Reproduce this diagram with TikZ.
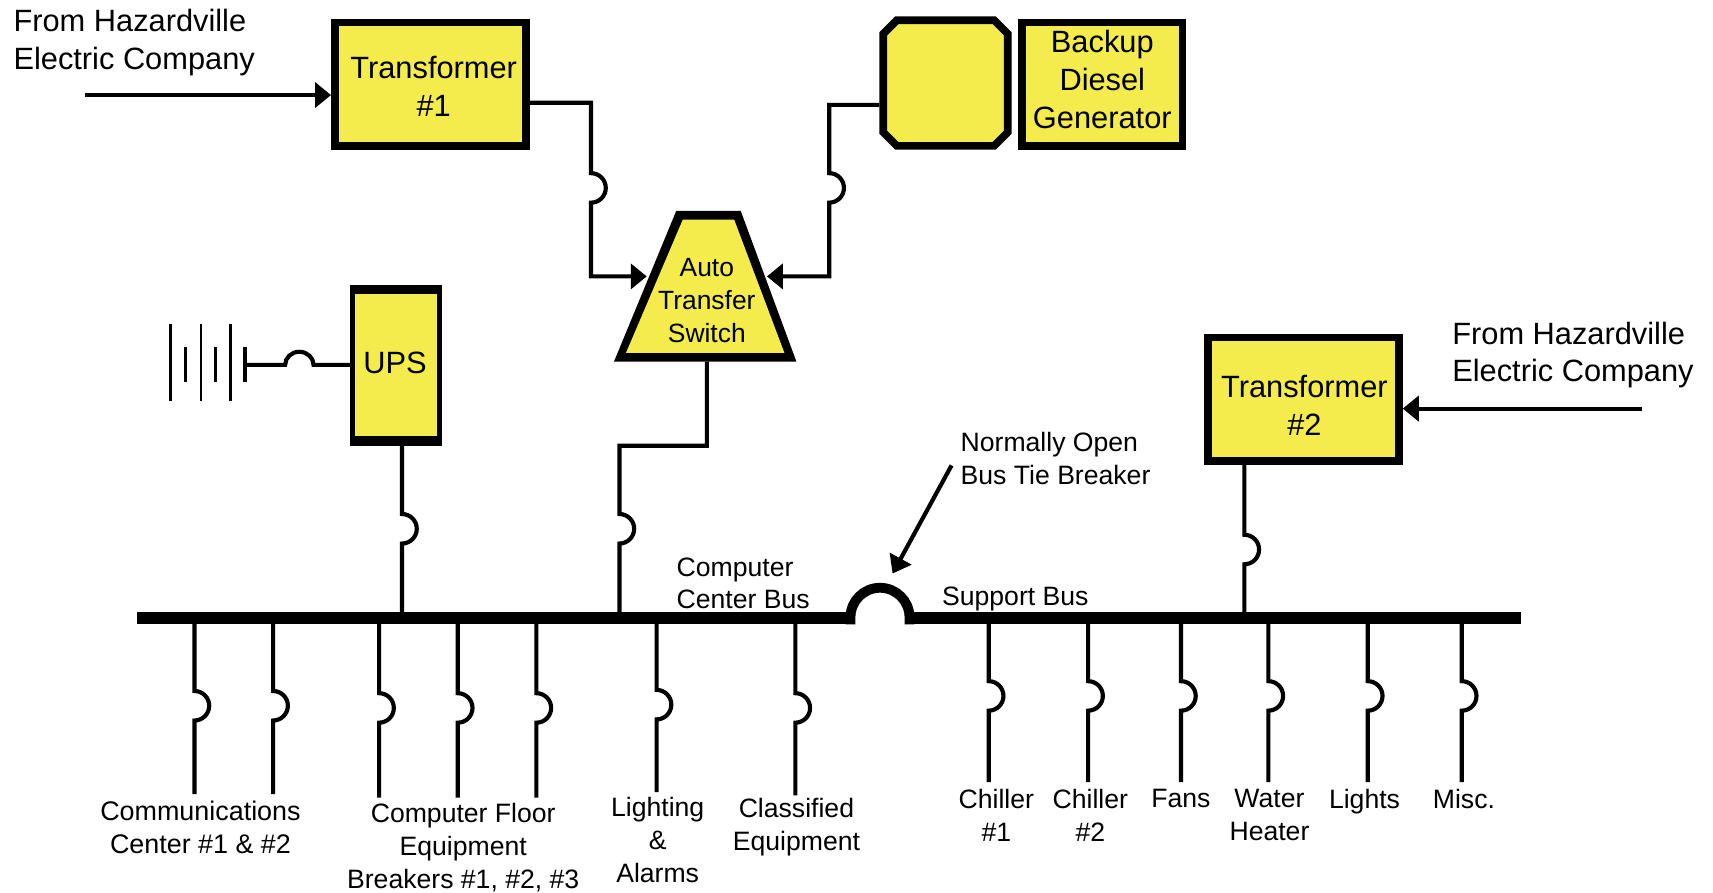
\documentclass[tikz,border=0pt]{standalone}
\usepackage{fontspec}
\setmainfont{Liberation Sans}
\usetikzlibrary{arrows.meta}
\definecolor{boxyellow}{HTML}{F3EC4C}
\newcommand{\uu}{0.54625pt}
\newcommand{\bigtxt}{\fontsize{15.4}{18.9}\selectfont}
\newcommand{\smalltxt}{\fontsize{13.3}{16.4}\selectfont}
% jump on a vertical wire: from top point down to bottom, bulge to the right
\newcommand{\feeder}[5]{%
  \coordinate (#1a) at (#2,#3);
  \coordinate (#1b) at (#2,#5);
  \draw[wire] (#1a) -- (#2,#4-13.5) arc (-90:90:13.5) -- (#1b);
}
\tikzset{
  x=\uu, y=-\uu,
  sz/.style 2 args={minimum width=#1*0.54625pt, minimum height=#2*0.54625pt, inner sep=0pt},
  yellowbox/.style={draw=black, fill=boxyellow, line width=7*0.54625pt},
  boxtext/.style={align=center, font=\bigtxt, inner sep=0pt},
  wire/.style={line width=3.8*0.54625pt, line join=miter},
  feed/.style={wire, -{Triangle[length=8pt,width=12.5pt]}},
  lab/.style={align=center, font=\smalltxt, inner sep=0pt},
  biglab/.style={align=left, font=\bigtxt, inner sep=0pt},
  lablft/.style={align=left, font=\smalltxt, inner sep=0pt, anchor=west},
}
\begin{document}
\begin{tikzpicture}
\useasboundingbox (0,0) rectangle (1568,817.4);

% boxes
\node[yellowbox, sz={175}{113}] (t1) at (394,77) {};
\node[boxtext] (t1txt) at (397,79) {Transformer\\\#1};
\node[yellowbox, sz={175}{113}] (t2) at (1193,365.5) {};
\node[boxtext] (t2txt) at (1194,371) {Transformer\\\#2};
\node[yellowbox, sz={147}{113}] (bdg) at (1009,77) {};
\node[boxtext] (bdgtxt) at (1009,73) {Backup\\Diesel\\Generator};
\node[sz={121}{122}, outer sep=0pt] (gen) at (865.5,76) {};
\draw[yellowbox, line join=miter] (821,18.5) -- (910,18.5) -- (922.5,31) -- (922.5,121) -- (910,133.5) -- (821,133.5) -- (808.5,121) -- (808.5,31) -- cycle;
\node[fill=black, sz={84}{147}, outer sep=0pt] (ups) at (362.5,334.5) {};
\node[fill=boxyellow, sz={75}{130}, font=\bigtxt] (upsin) at (362.5,334.5) {};
\node[boxtext] (upstxt) at (361.5,332) {UPS};

% auto transfer switch
\draw[fill=black, draw=none] (619,193) -- (678,193) -- (729,331) -- (562,331) -- cycle;
\fill[boxyellow] (625,201) -- (672,201) -- (718,323) -- (573,323) -- cycle;
\node[lab, font=\fontsize{13.2}{16.4}\selectfont] (ats) at (647,275) {Auto\\Transfer\\Switch};
\coordinate (atsl) at (592,253);
\coordinate (atsr) at (702,253);
\coordinate (atsb) at (647,331);

% inputs
\coordinate (in1) at (78,87);
\coordinate (in2) at (1503,374);
\draw[feed] (in1) -- (in1-|t1.west);
\draw[feed] (in2) -- (in2-|t2.east);

% transformer 1 -> ATS
\coordinate (t1o) at (485,94);
\coordinate (j1) at (541,94);
\draw[feed] (t1o) -- (j1) -- (541,158.5) arc (-90:90:13.5) -- (541,253) -- (atsl);
% generator -> ATS
\coordinate (gno) at (gen.west|-0,96);
\draw[feed] (gno) -- (759,96) -- (759,158.5) arc (-90:90:13.5) -- (759,253) -- (atsr);

% battery
\coordinate (b1) at (156,297); \coordinate (b1e) at (156,367);
\coordinate (b2) at (170,318); \coordinate (b2e) at (170,350);
\coordinate (b3) at (184,297); \coordinate (b3e) at (184,367);
\coordinate (b4) at (197,318); \coordinate (b4e) at (197,350);
\coordinate (b5) at (211,297); \coordinate (b5e) at (211,367);
\coordinate (b6) at (224,318); \coordinate (b6e) at (224,350);
\draw[line width=2.6*0.54625pt] (b1)--(b1e) (b2)--(b2e) (b3)--(b3e) (b4)--(b4e) (b5)--(b5e);
\draw[line width=3.6*0.54625pt] (b6)--(b6e);
\draw[wire] (224,334) -- (261,334) arc (180:360:13 and 12) -- (ups.west|-0,334);

% ups, ats, transformer 2 to bus
\feeder{u}{368}{408}{484}{566}
\coordinate (ats2) at (567,408);
\draw[wire] (atsb) -- (647,408) -- (ats2) -- (567,470.5) arc (-90:90:13.5) -- (567,566);
\feeder{t}{1139}{425}{503}{566}

% bus
\coordinate (busA) at (125,566);
\coordinate (busB) at (780,566);
\coordinate (busC) at (832,566);
\coordinate (busD) at (1392,566);
\draw[line width=11*0.54625pt] (busA) -- (busB);
\draw[line width=11*0.54625pt] (busC) -- (busD);
\draw[line width=9*0.54625pt] (778.5,571.5) -- (778.5,565) arc (180:360:27 and 27) -- (832.5,571.5);

% feeders
\feeder{c1}{178}{566}{646}{727}
\feeder{c2}{250}{566}{646}{727}
\feeder{c3}{347}{566}{648}{730}
\feeder{c4}{419}{566}{648}{730}
\feeder{c5}{491}{566}{648}{730}
\feeder{c6}{601}{566}{645}{725}
\feeder{c7}{728}{566}{648}{728}
\feeder{s1}{905}{566}{637}{716}
\feeder{s2}{996}{566}{637}{716}
\feeder{s3}{1081}{566}{637}{716}
\feeder{s4}{1161}{566}{637}{716}
\feeder{s5}{1252}{566}{637}{716}
\feeder{s6}{1338}{566}{637}{716}

% breaker arrow
\coordinate (nbt) at (871,426);
\draw[wire, -{Triangle[length=8.5pt,width=12pt]}] (nbt) -- (817,525);

% top labels
\node[biglab, anchor=west] (fh1) at (12,39) {From Hazardville\\Electric Company};
\node[biglab, anchor=west] (fh2) at (1329,325) {From Hazardville\\Electric Company};
\node[lablft] (nobt) at (879,420) {Normally Open\\Bus Tie Breaker};
\node[lablft] (ccb) at (619,534) {Computer\\Center Bus};
\node[lablft] (sb) at (862,548) {Support Bus};

% bottom labels
\node[lab, font=\fontsize{13.45}{16.4}\selectfont] (lcomm) at (183.5,757.5) {Communications\\Center \#1 \& \#2};
\node[lab] (lcf) at (424,776) {Computer Floor\\Equipment\\Breakers \#1, \#2, \#3};
\node[lab] (lla) at (602,769) {Lighting\\\&\\Alarms};
\node[lab] (lce) at (729,757) {Classified\\Equipment};
\node[lab] (lc1) at (912,746) {Chiller\\\#1};
\node[lab] (lc2) at (998,746) {Chiller\\\#2};
\node[lab] (lfans) at (1081,731) {Fans};
\node[lab] (lwh) at (1162,746) {Water\\Heater};
\node[lab] (llig) at (1249,733.5) {Lights};
\node[lab] (lmisc) at (1340,731) {Misc.};
\end{tikzpicture}
\end{document}
